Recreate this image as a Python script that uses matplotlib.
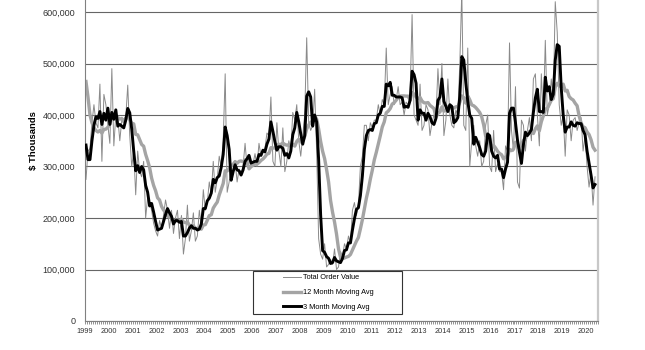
import matplotlib
matplotlib.use("Agg")
import matplotlib.pyplot as plt
import numpy as np
import pandas as pd
from matplotlib.patches import Rectangle
from matplotlib.ticker import FuncFormatter, FixedLocator

plt.rcParams['font.family'] = ['Liberation Sans', 'DejaVu Sans']

# Valores mensais (em milhares de "$ Thousands"): 1998 só entra no cálculo das médias
pedidos_1998 = [650, 690, 755, 565, 540, 445, 411, 424, 370, 355, 415, 335]

pedidos = [
    275, 330, 335, 385, 420, 385, 375, 460, 310, 440, 420, 380,  # 1999
    345, 490, 340, 400, 395, 350, 390, 385, 395, 458, 360, 300,  # 2000
    330, 245, 330, 290, 280, 310, 200, 240, 230, 215, 190, 175,  # 2001
    165, 195, 180, 205, 235, 215, 180, 215, 170, 200, 215, 160,  # 2002
    205, 130, 160, 225, 155, 175, 210, 155, 165, 215, 185, 255,  # 2003
    215, 230, 270, 245, 310, 250, 275, 320, 300, 350, 480, 250,  # 2004
    270, 300, 300, 310, 270, 295, 285, 300, 345, 300, 320, 300,  # 2005
    305, 325, 300, 345, 320, 330, 335, 365, 360, 435, 310, 300,  # 2006
    385, 330, 300, 375, 290, 310, 350, 330, 405, 390, 420, 350,  # 2007
    320, 360, 400, 550, 385, 370, 380, 450, 330, 160, 130, 120,  # 2008
    150, 105, 110, 120, 110, 140, 100, 105, 135, 125, 150, 140,  # 2009
    165, 150, 215, 230, 205, 225, 300, 320, 380, 380, 350, 385,  # 2010
    375, 390, 390, 420, 400, 430, 420, 530, 420, 440, 455, 420,  # 2011
    430, 455, 420, 425, 400, 425, 420, 440, 595, 400, 390, 380,  # 2012
    460, 370, 380, 420, 410, 360, 385, 400, 395, 490, 420, 500,  # 2013
    360, 390, 470, 400, 380, 375, 410, 400, 500, 640, 380, 370,  # 2014
    530, 300, 350, 380, 340, 320, 350, 300, 310, 380, 400, 300,  # 2015
    290, 370, 290, 305, 290, 290, 255, 340, 330, 540, 370, 330,  # 2016
    455, 270, 258, 390, 380, 330, 370, 395, 350, 470, 480, 400,  # 2017
    340, 480, 395, 545, 400, 420, 470, 430, 620, 560, 420, 380,  # 2018
    400, 320, 410, 400, 350, 390, 395, 370, 385, 395, 330, 360,  # 2019
    300, 260, 290, 225, 280,                                     # 2020
]

anos = list(range(1999, 2021))
legendas = ['Total Order Value', '12 Month Moving Avg', '3 Month Moving Avg']

serie = pd.Series(np.array(pedidos_1998 + pedidos, dtype=float) * 1000)
media3 = serie.rolling(3).mean().iloc[12:].to_numpy()
media12 = serie.rolling(12).mean().iloc[12:].to_numpy()
valores = serie.iloc[12:].to_numpy()
x = 1999 + (np.arange(len(valores)) + 0.5) / 12

fig = plt.figure(figsize=(6.45, 3.5), dpi=100)
ax = fig.add_axes([85 / 645, 29 / 350, 513 / 645, 360.5 / 350])

ax.plot(x, valores, color='#8a8a8a', lw=0.7, label=legendas[0], zorder=2)
ax.plot(x, media12, color='#a4a4a4', lw=2.4, label=legendas[1], zorder=2)
ax.plot(x, media3, color='black', lw=2.1, label=legendas[2], zorder=3)

ax.set_xlim(1999, 2020.5)
ax.set_ylim(0, 700000)
ax.set_yticks(range(0, 600001, 100000))
ax.yaxis.set_major_formatter(FuncFormatter(lambda v, p: f'{v:,.0f}'))
ax.yaxis.grid(True, color='#666666', lw=0.8)
ax.set_axisbelow(True)

ax.set_xticks(anos)
ax.set_xticklabels([str(a) for a in anos])
ax.xaxis.set_minor_locator(FixedLocator(1999 + np.arange(0, 259) / 12))

ax.tick_params(axis='y', length=0, pad=7, labelsize=6.5, labelcolor='#333333')
ax.tick_params(axis='x', which='both', length=2.2, width=0.6, color='#808080',
               direction='out', pad=2.5, labelsize=5.3, labelcolor='#333333')

ax.spines['top'].set_visible(False)
ax.spines['right'].set_color('#c8c8c8')
ax.spines['right'].set_linewidth(1.6)
ax.spines['left'].set_color('#808080')
ax.spines['bottom'].set_color('#808080')

ax.set_ylabel('$ Thousands', fontsize=6.8, fontweight='bold', labelpad=3)

# caixa da legenda mais larga que o conteúdo
ax.add_patch(Rectangle((0.327, 0.0194), 0.291, 0.1193, transform=ax.transAxes,
                       facecolor='white', edgecolor='#333333', lw=0.8, zorder=4))
ax.legend(loc='center', bbox_to_anchor=(0.474, 0.079), frameon=False,
          fontsize=5.3, handlelength=2.5, handletextpad=0.2, labelspacing=1.05)

plt.savefig('out.png', dpi=100)
